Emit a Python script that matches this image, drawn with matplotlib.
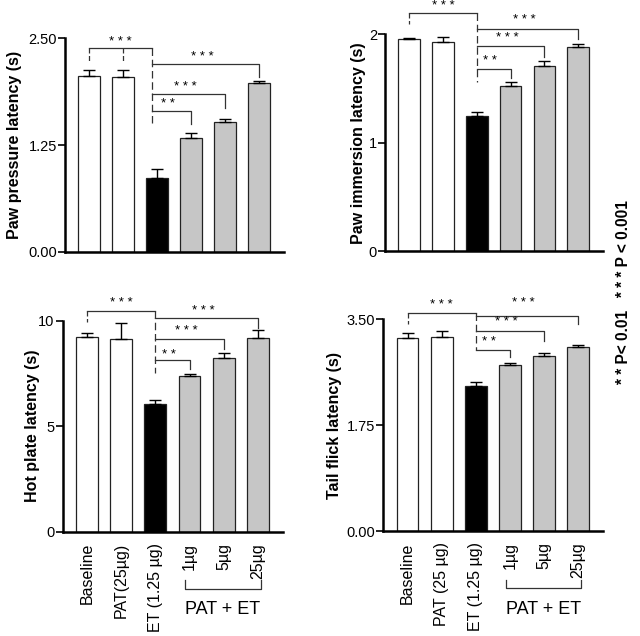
import matplotlib
matplotlib.use("Agg")
import matplotlib.pyplot as plt

plt.rcParams['font.family'] = ['Liberation Sans', 'DejaVu Sans']

# groups on the x axis (bottom panels carry the labels)
groups_hot = ["Baseline", "PAT(25µg)", "ET (1.25 µg)", "1µg", "5µg", "25µg"]
groups_tail = ["Baseline", "PAT (25 µg)", "ET (1.25 µg)", "1µg", "5µg", "25µg"]

# mean values and upper error (SEM)
paw_pressure = [2.06, 2.05, 0.86, 1.33, 1.52, 1.97]
paw_pressure_err = [0.07, 0.08, 0.11, 0.06, 0.03, 0.03]
paw_immersion = [1.96, 1.93, 1.25, 1.52, 1.71, 1.88]
paw_immersion_err = [0.01, 0.05, 0.03, 0.04, 0.04, 0.03]
hot_plate = [9.24, 9.13, 6.04, 7.35, 8.22, 9.17]
hot_plate_err = [0.16, 0.75, 0.19, 0.11, 0.23, 0.39]
tail_flick = [3.19, 3.21, 2.40, 2.75, 2.89, 3.05]
tail_flick_err = [0.08, 0.10, 0.07, 0.02, 0.05, 0.03]

bar_colors = ["white", "white", "black", "#c6c6c6", "#c6c6c6", "#c6c6c6"]

# significance brackets: (line y, drop y, star y) per comparison
# top: Baseline vs ET; then ET vs 25µg, 5µg, 1µg
panels = [
    dict(vals=paw_pressure, err=paw_pressure_err, ylabel="Paw pressure latency (s)",
         ylim=2.5, ticks=[0.0, 1.25, 2.5], fmt="{:.2f}", pos=[0.102, 0.604, 0.341, 0.336],
         labx=-0.20, labels=None, et_x=1.85, base_ticks=[0, 1],
         top=(2.38, 2.21, 2.46), br={5: (2.20, 2.04, 2.28), 4: (1.85, 1.68, 1.93), 3: (1.65, 1.50, 1.73)},
         et_low=1.48),
    dict(vals=paw_immersion, err=paw_immersion_err, ylabel="Paw immersion latency (s)",
         ylim=2.0, ticks=[0, 1, 2], fmt="{:d}", pos=[0.602, 0.605, 0.340, 0.341],
         labx=-0.087, labels=None, et_x=2.0, base_ticks=[0],
         top=(2.20, 2.10, 2.26), br={5: (2.05, 1.96, 2.13), 4: (1.89, 1.79, 1.97), 3: (1.68, 1.60, 1.75)},
         et_low=1.56),
    dict(vals=hot_plate, err=hot_plate_err, ylabel="Hot plate latency (s)",
         ylim=10, ticks=[0, 5, 10], fmt="{:d}", pos=[0.098, 0.164, 0.344, 0.332],
         labx=-0.105, labels=groups_hot, et_x=2.0, base_ticks=[0],
         top=(10.43, 9.95, 10.83), br={5: (10.14, 9.64, 10.46), 4: (9.12, 8.66, 9.51), 3: (8.11, 7.70, 8.38)},
         et_low=7.51),
    dict(vals=tail_flick, err=tail_flick_err, ylabel="Tail flick latency (s)",
         ylim=3.5, ticks=[0.0, 1.75, 3.5], fmt="{:.2f}", pos=[0.599, 0.165, 0.343, 0.333],
         labx=-0.19, labels=groups_tail, et_x=2.0, base_ticks=[0],
         top=(3.61, 3.43, 3.74), br={5: (3.56, 3.42, 3.77), 4: (3.31, 3.14, 3.46), 3: (2.99, 2.87, 3.12)},
         et_low=2.99),
]

fig = plt.figure(figsize=(6.4, 6.36), dpi=100)

for p in panels:
    ax = fig.add_axes(p["pos"])
    x = list(range(6))
    ax.bar(x, p["vals"], width=0.64, color=bar_colors, edgecolor="#222222", linewidth=0.9, zorder=2)
    ax.errorbar(x, p["vals"], yerr=[[0] * 6, p["err"]], fmt="none", ecolor="black",
                elinewidth=1.0, capsize=4, capthick=1.0, zorder=3)
    ax.set_xlim(-0.71, 5.73)
    ax.set_ylim(0, p["ylim"])
    ax.set_yticks(p["ticks"])
    ax.set_yticklabels([p["fmt"].format(t) for t in p["ticks"]], fontsize=10.5)
    ax.spines["top"].set_visible(False)
    ax.spines["right"].set_visible(False)
    ax.spines["left"].set_linewidth(1.8)
    ax.spines["bottom"].set_linewidth(1.8)
    ax.tick_params(axis="y", length=5, width=1.2, pad=1)
    ax.set_ylabel(p["ylabel"], fontsize=11.5, fontweight="bold")
    ax.yaxis.set_label_coords(p["labx"], 0.5)
    if p["labels"]:
        ax.set_xticks(x)
        ax.set_xticklabels(p["labels"], rotation=90, fontsize=11.5, va="top")
        ax.tick_params(axis="x", length=0, pad=8)
    else:
        ax.set_xticks([])

    kw = dict(color="#333333", linewidth=0.9, clip_on=False)
    # baseline vs ET bracket
    ly, dy, sy = p["top"]
    ax.plot([0, p["et_x"]], [ly, ly], **kw)
    for b in p["base_ticks"]:
        ax.plot([b, b], [ly, dy], linestyle=(0, (4, 2)), **kw)
    ax.plot([p["et_x"], p["et_x"]], [ly, p["et_low"]], linestyle=(0, (6, 3)), **kw)
    ax.text(p["et_x"] / 2, sy, "* * *", ha="center", va="center", fontsize=9.5, clip_on=False)
    # ET vs PAT+ET brackets
    for tgt, (ly, dy, sy) in p["br"].items():
        ax.plot([p["et_x"], tgt, tgt], [ly, ly, dy], **kw)
        stars = "* *" if tgt == 3 else "* * *"
        ax.text((p["et_x"] + tgt) / 2 - 0.1, sy, stars, ha="center", va="center",
                fontsize=9.5, clip_on=False)

    if p["labels"]:
        # PAT + ET group bracket under the labels
        trans = ax.get_xaxis_transform()
        ax.plot([2.88, 2.88, 5.08, 5.08], [-0.23, -0.27, -0.27, -0.23], color="#333333",
                linewidth=0.9, transform=trans, clip_on=False)
        ax.text(3.98, -0.37, "PAT + ET", ha="center", va="center", fontsize=13,
                transform=trans)

fig.text(0.974, 0.541, "* * P< 0.01   * * * P < 0.001", rotation=90, ha="center",
         va="center", fontsize=11.2, fontweight="bold")

fig.savefig("out.png", dpi=100)
